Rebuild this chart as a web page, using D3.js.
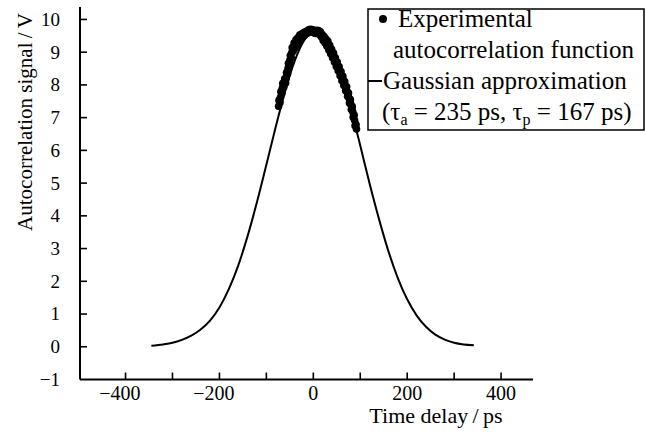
<!DOCTYPE html>
<html>
<head>
<meta charset="utf-8">
<script src="https://cdn.jsdelivr.net/npm/d3@7"></script>
<style>
  body { margin: 0; background: #fff; }
</style>
</head>
<body>
<div class="wrapper"></div>
<script>
// Gaussian approximation
var fitX = [-345, -320, -300, -280, -260, -240, -220, -200, -180, -160, -140, -120, -100, -80,
  -60, -40, -20, 0, 20, 40, 60, 80, 100, 120, 140, 160, 180, 200, 220, 240, 260, 280, 300, 320, 342];
var fitY = [0.03, 0.07, 0.12, 0.21, 0.34, 0.53, 0.8, 1.2, 1.76, 2.48, 3.38, 4.42, 5.56, 6.72,
  7.81, 8.72, 9.35, 9.64, 9.54, 9.08, 8.3, 7.28, 6.15, 4.98, 3.9, 2.92, 2.1, 1.45, 0.96, 0.61, 0.37, 0.22, 0.12, 0.07, 0.05];

// experimental autocorrelation points (even delays)
var expX = [-74, -72, -70, -68, -66, -64, -62, -60, -58, -56, -54, -52, -50, -48, -46, -44, -42, -40,
  -38, -36, -34, -32, -30, -28, -26, -24, -22, -20, -18, -16, -14, -12, -10, -8, -6, -4, -2, 0,
  2, 4, 6, 8, 10, 12, 14, 16, 18, 20, 22, 24, 26, 28, 30, 32, 34, 36, 38, 40, 42, 44, 46, 48,
  50, 52, 54, 56, 58, 60, 62, 64, 66, 68, 70, 72, 74, 76, 78, 80, 82, 84, 86, 88, 90, 92];
var expY = [7.35, 7.5, 7.62, 7.78, 7.9, 8.0, 8.05, 8.12, 8.2, 8.35, 8.5, 8.62, 8.75, 8.85, 8.98, 9.1, 9.15, 9.2,
  9.25, 9.3, 9.33, 9.38, 9.42, 9.46, 9.48, 9.5, 9.53, 9.55, 9.57, 9.59, 9.6, 9.62, 9.64, 9.66, 9.67, 9.66, 9.65, 9.64,
  9.62, 9.6, 9.62, 9.64, 9.63, 9.6, 9.58, 9.55, 9.5, 9.46, 9.42, 9.38, 9.34, 9.3, 9.26, 9.2, 9.14, 9.08, 9.02, 8.96, 8.9, 8.84, 8.77, 8.7,
  8.63, 8.56, 8.5, 8.42, 8.35, 8.27, 8.2, 8.12, 8.04, 7.96, 7.88, 7.8, 7.7, 7.6, 7.5, 7.4, 7.3, 7.18, 7.05, 6.92, 6.78, 6.65];

// experimental points (odd delays, scatter of the band)
var expX2 = [-73, -71, -69, -67, -65, -63, -61, -59, -57, -55, -53, -51, -49, -47, -45, -43, -41, -39,
  -37, -35, -33, -31, -29, -27, -25, -23, -21, -19, -17, -15, -13, -11, -9, -7, -5, -3, -1,
  1, 3, 5, 7, 9, 11, 13, 15, 17, 19, 21, 23, 25, 27, 29, 31, 33, 35, 37, 39, 41, 43, 45, 47,
  49, 51, 53, 55, 57, 59, 61, 63, 65, 67, 69, 71, 73, 75, 77, 79, 81, 83, 85, 87, 89, 91];
var expY2 = [7.53, 7.46, 7.8, 7.74, 8.05, 7.93, 8.19, 8.06, 8.38, 8.33, 8.66, 8.59, 8.9, 8.82, 9.14, 9.03, 9.28, 9.13,
  9.38, 9.22, 9.44, 9.32, 9.52, 9.39, 9.55, 9.46, 9.59, 9.51, 9.62, 9.56, 9.65, 9.59, 9.69, 9.63, 9.7, 9.62, 9.68,
  9.59, 9.65, 9.57, 9.67, 9.6, 9.66, 9.54, 9.62, 9.47, 9.54, 9.36, 9.48, 9.28, 9.4, 9.18, 9.33, 9.07, 9.21, 8.95, 9.09, 8.83, 8.97, 8.7, 8.83,
  8.56, 8.7, 8.43, 8.56, 8.28, 8.41, 8.13, 8.26, 7.98, 8.1, 7.82, 7.94, 7.65, 7.75, 7.45, 7.55, 7.25, 7.34, 7.01, 7.08, 6.75, 6.79];

var xTicks = [-400, -300, -200, -100, 0, 100, 200, 300, 400];
var xLabels = [-400, -200, 0, 200, 400];
var yTicks = [0, 1, 2, 3, 4, 5, 6, 7, 8, 9, 10];
var yLabels = [-1, 0, 1, 2, 3, 4, 5, 6, 7, 8, 9, 10];

var serif = "'Liberation Serif', 'Times New Roman', 'DejaVu Serif', serif";
var width = 646, height = 437;
var svg = d3.select(".wrapper").append("svg")
  .attr("width", width)
  .attr("height", height)
  .attr("font-family", serif);

var x = d3.scaleLinear().domain([-497, 468]).range([80, 533]);
var y = d3.scaleLinear().domain([-1, 10.38]).range([379.5, 7]);

// axes
svg.append("line")
  .attr("x1", x(-497)).attr("x2", x(468))
  .attr("y1", y(-1)).attr("y2", y(-1))
  .attr("stroke", "#000").attr("stroke-width", 2);
svg.append("line")
  .attr("x1", x(-497)).attr("x2", x(-497))
  .attr("y1", y(-1)).attr("y2", y(10.38))
  .attr("stroke", "#000").attr("stroke-width", 2);

svg.append("g").selectAll("line")
  .data(xTicks)
  .enter().append("line")
    .attr("x1", function(d) { return x(d); })
    .attr("x2", function(d) { return x(d); })
    .attr("y1", y(-1))
    .attr("y2", y(-1) - 7)
    .attr("stroke", "#000").attr("stroke-width", 1.6);

svg.append("g").selectAll("line")
  .data(yTicks)
  .enter().append("line")
    .attr("x1", x(-497))
    .attr("x2", x(-497) + 7)
    .attr("y1", function(d) { return y(d); })
    .attr("y2", function(d) { return y(d); })
    .attr("stroke", "#000").attr("stroke-width", 1.6);

// tick labels: digits centred on the tick, minus hangs to the left
svg.append("g").selectAll("text")
  .data(xLabels)
  .enter().append("text")
    .attr("x", function(d) { return x(d); })
    .attr("y", 400)
    .attr("dx", function(d) { return d < 0 ? "-0.28em" : 0; })
    .attr("text-anchor", "middle")
    .attr("font-size", 20)
    .text(function(d) { return d < 0 ? "\u2212" + Math.abs(d) : d; });

svg.append("g").selectAll("text")
  .data(yLabels)
  .enter().append("text")
    .attr("x", 60)
    .attr("y", function(d) { return y(d); })
    .attr("dy", "0.34em")
    .attr("text-anchor", "end")
    .attr("font-size", 19)
    .text(function(d) { return d < 0 ? "\u2212" + Math.abs(d) : d; });

svg.append("text")
  .attr("x", 436)
  .attr("y", 423)
  .attr("text-anchor", "middle")
  .attr("font-size", 22)
  .text("Time delay\u2009/\u2009ps");

svg.append("text")
  .attr("transform", "translate(32,122) rotate(-90)")
  .attr("text-anchor", "middle")
  .attr("font-size", 21)
  .text("Autocorrelation signal\u2009/\u2009V");

// fitted curve
var fit = fitX.map(function(d, i) { return [d, fitY[i]]; });
var line = d3.line()
  .x(function(d) { return x(d[0]); })
  .y(function(d) { return y(d[1]); })
  .curve(d3.curveMonotoneX);

svg.append("path")
  .datum(fit)
  .attr("d", line)
  .attr("fill", "none")
  .attr("stroke", "#000")
  .attr("stroke-width", 2);

// experimental points
var pts = expX.map(function(d, i) { return [d, expY[i]]; })
  .concat(expX2.map(function(d, i) { return [d, expY2[i]]; }));
svg.append("g").selectAll("circle")
  .data(pts)
  .enter().append("circle")
    .attr("cx", function(d) { return x(d[0]); })
    .attr("cy", function(d) { return y(d[1]); })
    .attr("r", 3.8)
    .attr("fill", "#000");

// legend
var legend = svg.append("g");
legend.append("rect")
  .attr("x", 368).attr("y", 9)
  .attr("width", 276).attr("height", 121)
  .attr("fill", "#fff")
  .attr("stroke", "#000").attr("stroke-width", 1.5);

legend.append("circle")
  .attr("cx", 383).attr("cy", 19)
  .attr("r", 4).attr("fill", "#000");
legend.append("text")
  .attr("x", 398).attr("y", 27)
  .attr("font-size", 25)
  .text("Experimental");
legend.append("text")
  .attr("x", 393).attr("y", 58)
  .attr("font-size", 25)
  .text("autocorrelation function");
legend.append("line")
  .attr("x1", 368).attr("x2", 382)
  .attr("y1", 81).attr("y2", 81)
  .attr("stroke", "#000").attr("stroke-width", 2);
legend.append("text")
  .attr("x", 383).attr("y", 89)
  .attr("font-size", 25)
  .text("Gaussian approximation");

var tau = legend.append("text")
  .attr("x", 382).attr("y", 120)
  .attr("font-size", 25);
tau.append("tspan").text("(\u03c4");
tau.append("tspan").attr("font-size", 16).attr("dy", 5).text("a");
tau.append("tspan").attr("dy", -5).text(" = 235 ps, \u03c4");
tau.append("tspan").attr("font-size", 16).attr("dy", 5).text("p");
tau.append("tspan").attr("dy", -5).text(" = 167 ps)");
</script>
</body>
</html>
